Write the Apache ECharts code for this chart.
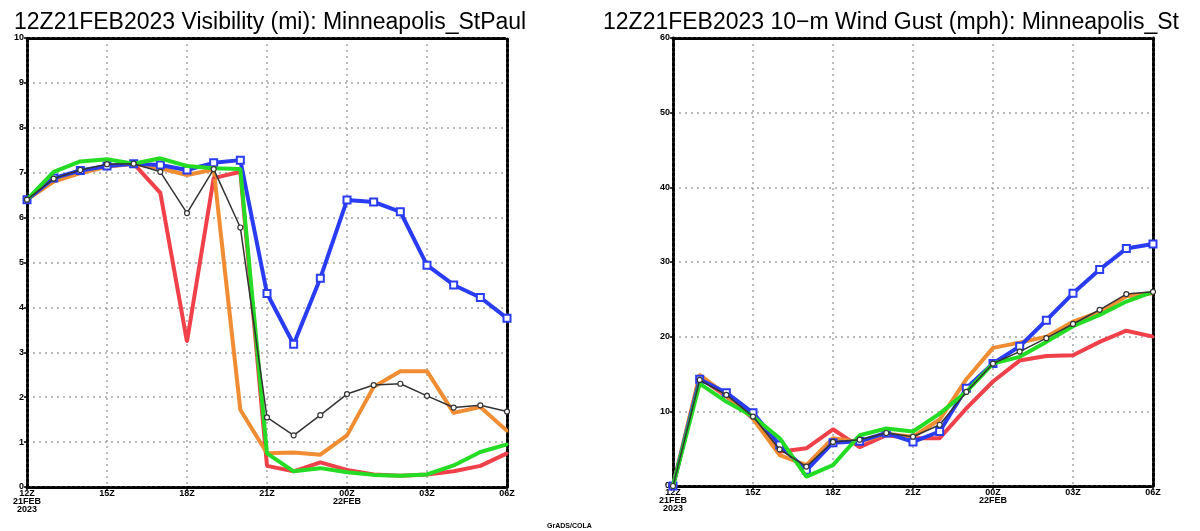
<!DOCTYPE html>
<html><head><meta charset="utf-8">
<script src="https://cdn.jsdelivr.net/npm/echarts@6/dist/echarts.min.js"></script>
<style>html,body{margin:0;padding:0;background:#fff}#c{width:1200px;height:531px}</style>
</head><body><div id="c"></div>
<script>
const hours = [0,1,2,3,4,5,6,7,8,9,10,11,12,13,14,15,16,17,18];
const tickLabels = {0:'12Z\n21FEB\n2023',3:'15Z',6:'18Z',9:'21Z',12:'00Z\n22FEB',15:'03Z',18:'06Z'};
const titleLeft = '12Z21FEB2023 Visibility (mi): Minneapolis_StPaul';
const titleRight = '12Z21FEB2023 10\u2212m Wind Gust (mph): Minneapolis_St';

const visRed    = [6.4,6.85,7.0,7.15,7.2,6.55,3.24,6.88,7.02,0.47,0.35,0.55,0.38,0.28,0.25,0.28,0.35,0.47,0.75];
const visOrange = [6.4,6.8,6.99,7.13,7.2,7.1,6.95,7.07,1.72,0.75,0.77,0.72,1.15,2.23,2.58,2.58,1.65,1.78,1.25];
const visBlue   = [6.4,6.88,7.05,7.15,7.2,7.17,7.06,7.22,7.28,4.31,3.18,4.65,6.39,6.35,6.13,4.94,4.5,4.22,3.76];
const visGreen  = [6.4,7.02,7.25,7.3,7.2,7.32,7.15,7.1,7.08,0.75,0.35,0.42,0.33,0.27,0.25,0.28,0.48,0.78,0.95];
const visBlack  = [6.4,6.87,7.06,7.19,7.2,7.02,6.1,7.08,5.78,1.55,1.15,1.6,2.07,2.27,2.3,2.03,1.77,1.82,1.68];

const gustRed    = [0,14.5,12.0,9.3,4.6,5.05,7.6,5.2,6.8,6.4,6.4,10.4,14.0,16.8,17.4,17.5,19.3,20.8,20.0];
const gustOrange = [0,14.9,12.2,9.0,4.15,2.8,6.4,5.9,7.0,6.6,8.9,14.3,18.5,19.2,20.0,22.0,23.3,25.4,25.8];
const gustBlue   = [0,14.3,12.5,9.8,5.5,2.1,5.8,6.0,7.1,5.9,7.3,13.1,16.4,18.7,22.2,25.8,29.0,31.8,32.4];
const gustGreen  = [0,13.7,11.3,9.3,6.4,1.25,2.8,6.8,7.7,7.3,9.7,12.6,16.4,17.3,19.3,21.4,22.9,24.7,26.0];
const gustBlack  = [0,14.2,12.2,9.3,4.9,2.6,5.9,6.2,7.1,6.6,8.2,12.6,16.4,18.0,19.8,21.7,23.6,25.7,26.0];

const C = {red:'#f0404a', orange:'#f08c32', blue:'#2a3cf2', green:'#24dc24', black:'#333333'};

function pts(arr){ return hours.map((h,i)=>[h, arr[i]]); }

const axisLineStyle = {color:'#000', width:3, type:[3,2]};
const splitStyle = {color:'#a5a5a5', width:1.5, type:[2,4]};
const lblFont = {fontFamily:'Liberation Sans', fontWeight:'bold', fontSize:9, color:'#000'};

function xAxes(gi){
  return [{
    type:'value', gridIndex:gi, min:0, max:18, interval:3, position:'bottom',
    axisLine:{show:true, lineStyle:axisLineStyle},
    axisTick:{show:true, length:3, lineStyle:{color:'#000', width:1.5}},
    splitLine:{show:true, lineStyle:splitStyle},
    axisLabel:Object.assign({margin:3, lineHeight:8, formatter:v=>tickLabels[v]||''}, lblFont)
  },{
    type:'value', gridIndex:gi, min:0, max:18, interval:3, position:'top',
    axisLine:{show:true, onZero:false, lineStyle:axisLineStyle},
    axisTick:{show:false}, splitLine:{show:false}, axisLabel:{show:false}
  }];
}
function yAxes(gi, max, interval){
  return [{
    type:'value', gridIndex:gi, min:0, max:max, interval:interval, position:'left',
    axisLine:{show:true, onZero:false, lineStyle:axisLineStyle},
    axisTick:{show:true, length:3, lineStyle:{color:'#000', width:1.5}},
    splitLine:{show:true, lineStyle:splitStyle},
    axisLabel:Object.assign({margin:3}, lblFont)
  },{
    type:'value', gridIndex:gi, min:0, max:max, interval:interval, position:'right',
    axisLine:{show:true, onZero:false, lineStyle:axisLineStyle},
    axisTick:{show:false}, splitLine:{show:false}, axisLabel:{show:false}
  }];
}

function mk(name, data, color, xi, yi, kind){
  const s = {name:name, type:'line', xAxisIndex:xi, yAxisIndex:yi, data:pts(data),
    lineStyle:{color:color, width:4}, itemStyle:{color:color}, symbol:'circle', symbolSize:3,
    showSymbol:true, animation:false, z:3};
  if(kind==='blue'){ s.symbol='rect'; s.symbolSize=7; s.itemStyle={color:'#fff', borderColor:color, borderWidth:2}; s.z=4; }
  if(kind==='green'){ s.z=5; }
  if(kind==='black'){ s.lineStyle.width=1.5; s.symbol='circle'; s.symbolSize=5; s.itemStyle={color:'#fff', borderColor:color, borderWidth:1.2}; s.z=6; }
  return s;
}

const chart = echarts.init(document.getElementById('c'), null, {renderer:'canvas'});
chart.setOption({
  animation:false,
  backgroundColor:'#fff',
  title:[
    {text:titleLeft, left:9, top:6, textStyle:{fontFamily:'Liberation Sans', fontWeight:'normal', fontSize:23, color:'#000'}},
    {text:titleRight, left:598, top:6, textStyle:{fontFamily:'Liberation Sans', fontWeight:'normal', fontSize:23, color:'#000'}},
    {text:'GrADS/COLA', left:542, top:518, textStyle:{fontFamily:'Liberation Sans', fontWeight:'bold', fontSize:7, color:'#000'}}
  ],
  grid:[
    {left:27, right:693, top:38, bottom:44},
    {left:673, right:47, top:38, bottom:45}
  ],
  xAxis:[...xAxes(0), ...xAxes(1)],
  yAxis:[...yAxes(0,10,1), ...yAxes(1,60,10)],
  series:[
    mk('red', visRed, C.red, 0, 0, 'red'),
    mk('orange', visOrange, C.orange, 0, 0, 'orange'),
    mk('blue', visBlue, C.blue, 0, 0, 'blue'),
    mk('green', visGreen, C.green, 0, 0, 'green'),
    mk('black', visBlack, C.black, 0, 0, 'black'),
    mk('red', gustRed, C.red, 2, 2, 'red'),
    mk('orange', gustOrange, C.orange, 2, 2, 'orange'),
    mk('blue', gustBlue, C.blue, 2, 2, 'blue'),
    mk('green', gustGreen, C.green, 2, 2, 'green'),
    mk('black', gustBlack, C.black, 2, 2, 'black')
  ]
});
</script></body></html>
